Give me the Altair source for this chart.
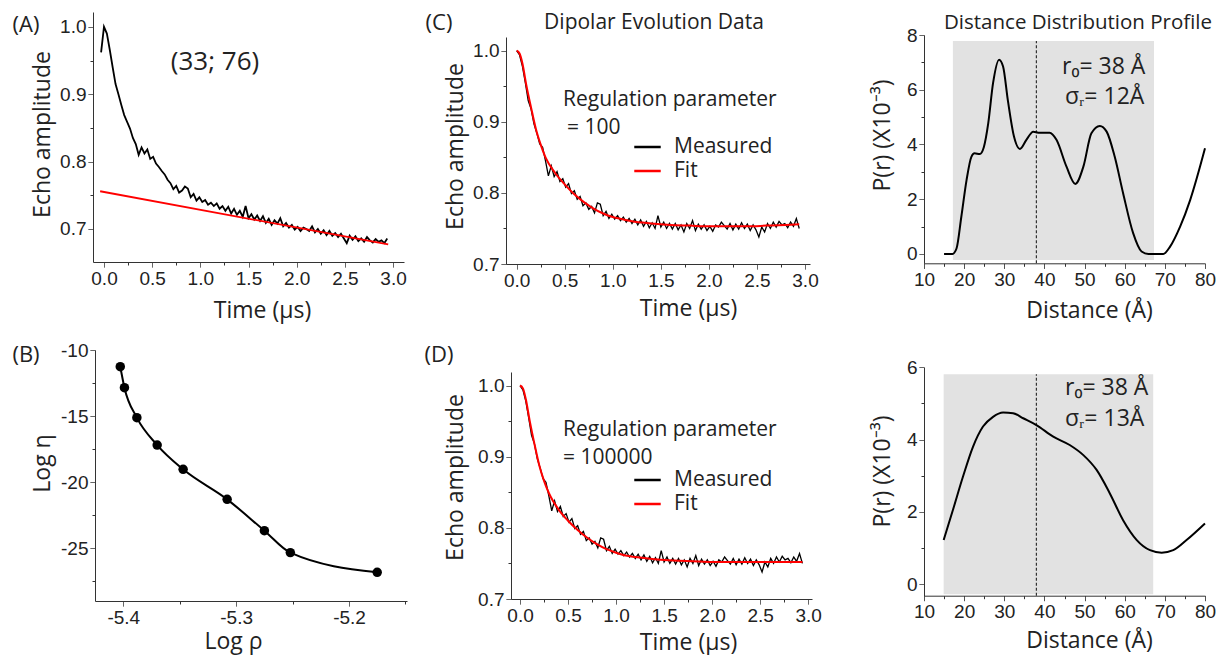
import altair as alt
import pandas as pd

W, H = 1223, 655
LABEL_FONT = "Liberation Sans"
TEXT_FONT = "Open Sans"
INK = "#222222"

# ---------------- Panel A : raw echo decay + background ----------------
A_echo = [0.962, 1.000, 0.990, 0.966, 0.940, 0.915, 0.900, 0.884, 0.869, 0.859,
          0.849, 0.835, 0.826, 0.810, 0.821, 0.812, 0.818, 0.804, 0.807, 0.797,
          0.792, 0.786, 0.781, 0.773, 0.768, 0.759, 0.764, 0.754, 0.757, 0.763,
          0.760, 0.747, 0.752, 0.742, 0.747, 0.740, 0.743, 0.736, 0.739, 0.734,
          0.738, 0.730, 0.734, 0.727, 0.733, 0.723, 0.730, 0.721, 0.727, 0.718,
          0.734, 0.716, 0.722, 0.714, 0.720, 0.712, 0.719, 0.709, 0.715, 0.706,
          0.713, 0.708, 0.716, 0.704, 0.709, 0.702, 0.706, 0.699, 0.703, 0.697,
          0.702, 0.700, 0.697, 0.704, 0.695, 0.700, 0.693, 0.698, 0.691, 0.697,
          0.690, 0.694, 0.688, 0.693, 0.686, 0.679, 0.690, 0.684, 0.689, 0.682,
          0.686, 0.681, 0.688, 0.683, 0.680, 0.685, 0.681, 0.683, 0.679, 0.686]
A_time = [round(-0.03 + 0.03 * i, 2) for i in range(len(A_echo))]
A_bg_time = [-0.04, 2.95]
A_bg_echo = [0.756, 0.677]

# ---------------- Panel B : L-curve ----------------
B_log_rho = [-5.4027, -5.399, -5.388, -5.370, -5.347, -5.308, -5.275, -5.252, -5.175]
B_log_eta = [-11.26, -12.85, -15.12, -17.19, -19.03, -21.3, -23.67, -25.33, -26.82]

# ---------------- Panels C, D : dipolar evolution ----------------
CD_measured = [1.000, 0.994, 0.978, 0.955, 0.930, 0.918, 0.897, 0.884, 0.869, 0.864,
               0.845, 0.824, 0.838, 0.823, 0.830, 0.816, 0.820, 0.808, 0.813, 0.799,
               0.803, 0.791, 0.795, 0.782, 0.786, 0.777, 0.781, 0.772, 0.786, 0.784,
               0.768, 0.774, 0.764, 0.770, 0.763, 0.768, 0.761, 0.766, 0.759, 0.764,
               0.757, 0.763, 0.755, 0.762, 0.753, 0.760, 0.751, 0.758, 0.750, 0.768,
               0.752, 0.759, 0.750, 0.757, 0.749, 0.757, 0.748, 0.755, 0.745, 0.757,
               0.750, 0.761, 0.747, 0.756, 0.749, 0.755, 0.747, 0.753, 0.746, 0.755,
               0.752, 0.759, 0.754, 0.749, 0.757, 0.748, 0.756, 0.749, 0.758, 0.750,
               0.756, 0.747, 0.755, 0.748, 0.738, 0.752, 0.745, 0.757, 0.750, 0.759,
               0.752, 0.760, 0.755, 0.757, 0.751, 0.759, 0.753, 0.764, 0.750]
CD_time = [round(0.03 * i, 2) for i in range(len(CD_measured))]
fit_time = [0, 0.03, 0.06, 0.1, 0.15, 0.2, 0.25, 0.3, 0.4, 0.5, 0.6, 0.7, 0.8,
            0.9, 1.0, 1.1, 1.2, 1.4, 1.6, 1.8, 2.0, 2.2, 2.4, 2.6, 2.8, 2.94]
C_fit = [1.0, 0.996, 0.982, 0.952, 0.920, 0.890, 0.868, 0.850, 0.828, 0.812, 0.798,
         0.787, 0.778, 0.771, 0.766, 0.763, 0.760, 0.757, 0.755, 0.754, 0.753, 0.753,
         0.753, 0.754, 0.755, 0.756]
D_fit = [1.0, 0.996, 0.981, 0.951, 0.918, 0.888, 0.866, 0.849, 0.826, 0.810, 0.797,
         0.786, 0.777, 0.770, 0.765, 0.761, 0.759, 0.756, 0.754, 0.753, 0.752, 0.752,
         0.752, 0.752, 0.752, 0.752]
series_names = ["Measured", "Fit"]

# ---------------- Panels E, F : distance distributions ----------------
E_r = [15, 17.1, 18.1, 19.3, 20.6, 21.8, 22.6, 23.9, 24.9, 26.0, 27.2, 28.7, 29.7,
       30.9, 32.4, 33.9, 35.5, 37.2, 38.8, 41.3, 43.0, 45.5, 47.7, 49.7, 51.7, 53.8,
       55.5, 57.5, 59.6, 62.1, 64.2, 65.9, 69.6, 71.3, 73.8, 76.3, 80]
E_p = [0, 0, 0.2, 1.36, 2.7, 3.55, 3.68, 3.65, 3.9, 4.77, 6.24, 7.1, 6.85, 5.6, 4.3,
       3.84, 4.17, 4.47, 4.43, 4.43, 4.17, 3.19, 2.56, 3.19, 4.41, 4.68, 4.47, 3.56,
       2.22, 0.76, 0.09, 0, 0, 0.27, 1.0, 1.97, 3.86]
F_r = [14.9, 17.2, 19.7, 22.2, 24.7, 27.2, 29.7, 32.2, 34.7, 38.0, 42.2, 46.3, 49.7,
       53.0, 56.3, 59.6, 63.0, 66.3, 69.2, 72.1, 75.4, 80]
F_p = [1.22, 2.05, 2.97, 3.8, 4.36, 4.63, 4.75, 4.73, 4.59, 4.4, 4.08, 3.85, 3.57,
       3.16, 2.51, 1.77, 1.22, 0.94, 0.87, 0.94, 1.22, 1.68]
E_shade_r = [17.2, 67.3]
E_shade_p = [-0.22, 7.78]
F_shade_r = [14.9, 67.1]
F_shade_p = [-0.28, 5.81]
r0 = 38
E_dash_p = [-0.34, 7.78]
F_dash_p = [-0.32, 5.81]

# tick values
T_ticks = [0.0, 0.25, 0.5, 0.75, 1.0, 1.25, 1.5, 1.75, 2.0, 2.25, 2.5, 2.75, 3.0]
echo_ticks = [0.7, 0.75, 0.8, 0.85, 0.9, 0.95, 1.0]
rho_ticks = [-5.4, -5.35, -5.3, -5.25, -5.2, -5.15]
eta_ticks = [-10, -12.5, -15, -17.5, -20, -22.5, -25, -27.5]
dist_ticks = [10, 15, 20, 25, 30, 35, 40, 45, 50, 55, 60, 65, 70, 75, 80]
E_pticks = [0, 1, 2, 3, 4, 5, 6, 7, 8]
F_pticks = [0, 1, 2, 3, 4, 5, 6]


def make_axis(orient, offset, values, major, fmt, title, tx, ty):
    test = f"abs(datum.value / {major} - round(datum.value / {major})) < 0.001"
    return alt.Axis(
        orient=orient, offset=offset, values=values, title=title,
        titleX=tx, titleY=ty, titleAlign="center", titleBaseline="middle",
        titleAngle=270 if orient == "left" else 0,
        labelExpr=f"({test}) ? replace(format(datum.value, '{fmt}'), '\u2212', '-') : ''",
        tickSize=5,
        tickDash={"condition": {"test": f"!({test})", "value": [3, 30]}, "value": [1, 0]},
    )


def sc(domain, rng):
    return alt.Scale(domain=domain, range=rng, nice=False, zero=False)


def label(text, x, y, size=22, align="left"):
    return alt.Chart(pd.DataFrame({"s": [text]})).mark_text(
        font=TEXT_FONT, fontSize=size, align=align, baseline="middle", color=INK
    ).encode(text="s:N", x=alt.value(x), y=alt.value(y))


layers = []

# ---------- Panel A ----------
A_xs = [[-0.114, 3.114], [93, 404]]
A_ys = [[0.651, 1.022], [262, 12]]
layers.append(
    alt.Chart(pd.DataFrame({"t": A_time, "v": A_echo})).mark_line(color="black", strokeWidth=1.8).encode(
        x=alt.X("t:Q", scale=sc(*A_xs), axis=make_axis("bottom", 262 - H, T_ticks, 0.5, ".1f", "Time (µs)", 262, 48)),
        y=alt.Y("v:Q", scale=sc(*A_ys), axis=make_axis("left", -93, echo_ticks, 0.1, ".1f", "Echo amplitude", -51, 134)),
    )
)
layers.append(
    alt.Chart(pd.DataFrame({"t": A_bg_time, "v": A_bg_echo})).mark_line(color="#ff0000", strokeWidth=1.8).encode(
        x=alt.X("t:Q", scale=sc(*A_xs), axis=None), y=alt.Y("v:Q", scale=sc(*A_ys), axis=None)
    )
)

# ---------- Panel B ----------
B_xs = [[-5.4251, -5.1486], [95, 407]]
B_ys = [[-28.99, -10], [601, 350]]
B_df = pd.DataFrame({"rho": B_log_rho, "eta": B_log_eta})
layers.append(
    alt.Chart(B_df).mark_line(color="black", strokeWidth=2, interpolate="monotone").encode(
        x=alt.X("rho:Q", scale=sc(*B_xs), axis=make_axis("bottom", 601 - H, rho_ticks, 0.1, ".1f", "Log ρ", 233, 40)),
        y=alt.Y("eta:Q", scale=sc(*B_ys), axis=make_axis("left", -95, eta_ticks, 5, ".0f", "Log η", -53, 463)),
    )
)
layers.append(
    alt.Chart(B_df).mark_circle(color="black", size=90, opacity=1).encode(
        x=alt.X("rho:Q", scale=sc(*B_xs), axis=None), y=alt.Y("eta:Q", scale=sc(*B_ys), axis=None)
    )
)


# ---------- Panels C / D ----------
def dipolar_layers(fit_vals, xdom, xr, ydom, yr, ttl_y, ytx, yty, leg_y):
    meas = pd.DataFrame({"t": CD_time, "v": CD_measured, "series": series_names[0]})
    fit = pd.DataFrame({"t": fit_time, "v": fit_vals})
    color = alt.Color(
        "series:N",
        scale=alt.Scale(domain=series_names, range=["#000000", "#ff0000"]),
        legend=alt.Legend(
            orient="none", legendX=633, legendY=leg_y, title=None, symbolType="stroke",
            symbolSize=700, symbolStrokeWidth=2.5, labelFont=TEXT_FONT, labelFontSize=21,
            labelColor=INK, labelOffset=12, rowPadding=0, padding=0, clipHeight=24,
        ),
    )
    return [
        alt.Chart(meas).mark_line(strokeWidth=1.3).encode(
            x=alt.X("t:Q", scale=sc(xdom, xr), axis=make_axis("bottom", yr[0] - H, T_ticks, 0.5, ".1f", "Time (µs)", 688, ttl_y)),
            y=alt.Y("v:Q", scale=sc(ydom, yr), axis=make_axis("left", -xr[0], echo_ticks, 0.1, ".1f", "Echo amplitude", ytx, yty)),
            color=color,
        ),
        alt.Chart(fit).mark_line(strokeWidth=2, color="#ff0000", interpolate="monotone").encode(
            x=alt.X("t:Q", scale=sc(xdom, xr), axis=None), y=alt.Y("v:Q", scale=sc(ydom, yr), axis=None)
        ),
    ]


layers += dipolar_layers(C_fit, [-0.111, 3.052], [506, 810], [0.7, 1.0193], [264, 37], 44, -51, 146, 135)
layers += dipolar_layers(D_fit, [-0.094, 3.04], [511, 812], [0.7, 1.019], [599, 372], 43, -56, 477, 468)


# ---------- Panels E / F ----------
def dist_layers(r, p, shade_r, shade_p, dash_p, ydom, yr, pticks, ttl_y, yty):
    xd, xr = [10, 80], [924, 1205]
    shade = pd.DataFrame({"r1": [shade_r[0]], "r2": [shade_r[1]], "p1": [shade_p[0]], "p2": [shade_p[1]]})
    dash = pd.DataFrame({"r": [r0], "p1": [dash_p[0]], "p2": [dash_p[1]]})
    curve = pd.DataFrame({"r": r, "p": p})
    return [
        alt.Chart(shade).mark_rect(color="#e2e2e2").encode(
            x=alt.X("r1:Q", scale=sc(xd, xr), axis=make_axis("bottom", yr[0] - H, dist_ticks, 10, ".0f", "Distance (Å)", 1089, ttl_y)),
            x2="r2:Q",
            y=alt.Y("p1:Q", scale=sc(ydom, yr), axis=make_axis("left", -924, pticks, 2, ".0f", "P(r) (X10⁻³)", -42, yty)),
            y2="p2:Q",
        ),
        alt.Chart(dash).mark_rule(color="#333333", strokeWidth=1.2, strokeDash=[3, 2]).encode(
            x=alt.X("r:Q", scale=sc(xd, xr), axis=None), y=alt.Y("p1:Q", scale=sc(ydom, yr), axis=None), y2="p2:Q"
        ),
        alt.Chart(curve).mark_line(color="black", strokeWidth=2, interpolate="monotone").encode(
            x=alt.X("r:Q", scale=sc(xd, xr), axis=None), y=alt.Y("p:Q", scale=sc(ydom, yr), axis=None)
        ),
    ]


layers += dist_layers(E_r, E_p, E_shade_r, E_shade_p, E_dash_p, [-0.34, 8], [263.3, 35], E_pticks, 47, 135)
layers += dist_layers(F_r, F_p, F_shade_r, F_shade_p, F_dash_p, [-0.32, 6], [595.7, 367.3], F_pticks, 45, 471)

layers += [
    label("(A)", 26, 25, align="center"),
    label("(B)", 26, 355, align="center"),
    label("(C)", 439, 23, align="center"),
    label("(D)", 439, 355, align="center"),
    label("(33; 76)", 215, 62, size=26, align="center"),
    label("Dipolar Evolution Data", 654, 23, size=21, align="center"),
    label("Distance Distribution Profile", 1078, 23, size=20.5, align="center"),
    label("Regulation parameter", 563, 100, size=21),
    label("= 100", 567, 128, size=21),
    label("Regulation parameter", 563, 430, size=21),
    label("= 100000", 563, 458, size=21),
    label("r₀= 38 Å", 1062, 67, size=23),
    label("σᵣ= 12Å", 1065, 97, size=23),
    label("r₀= 38 Å", 1065, 388, size=23),
    label("σᵣ= 13Å", 1065, 419, size=23),
]

chart = (
    alt.layer(*layers)
    .resolve_scale(x="independent", y="independent", color="independent")
    .resolve_axis(x="independent", y="independent")
    .resolve_legend(color="independent")
    .properties(width=W, height=H, padding=0, background="white",
                autosize=alt.AutoSizeParams(type="none"))
    .configure_view(stroke=None)
    .configure_axis(
        grid=False, labelFont=LABEL_FONT, labelFontSize=19, labelColor=INK,
        titleFont=TEXT_FONT, titleFontSize=23, titleFontWeight="normal", titleColor=INK,
        domainColor="#333333", tickColor="#333333", domainWidth=1, tickWidth=1,
        labelPadding=2, labelOverlap=False, labelFlush=False,
    )
)

chart.save("out.html", embed_options={"renderer": "svg", "actions": False})
